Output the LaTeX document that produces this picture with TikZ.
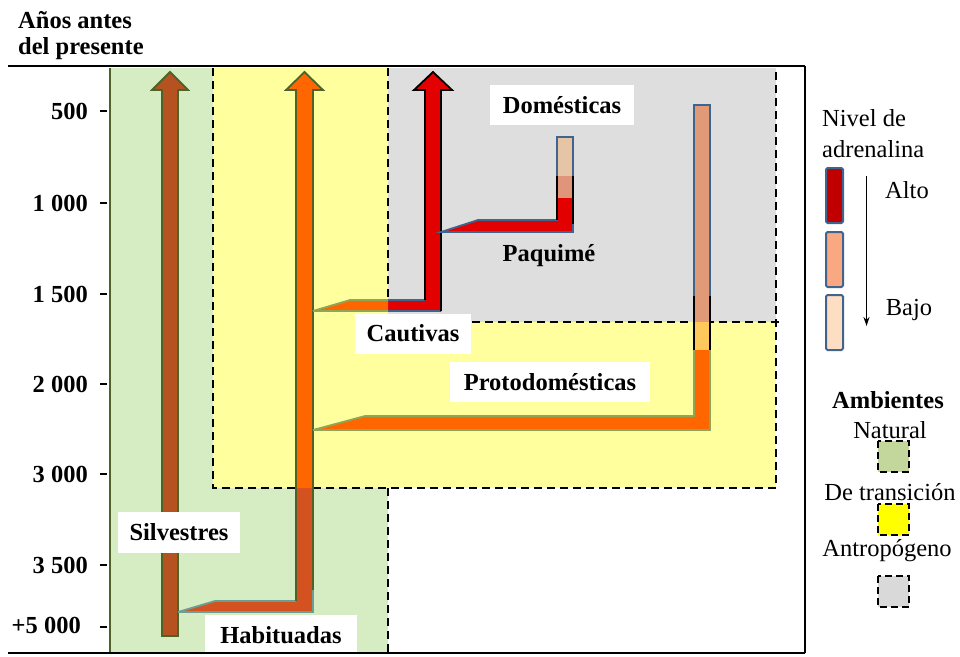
\documentclass[tikz,border=0pt]{standalone}
\usepackage{fontspec}
\setmainfont{Liberation Serif}
\usetikzlibrary{arrows.meta}

% environments
\definecolor{natgreen}{HTML}{D6ECC2}
\definecolor{transyellow}{HTML}{FFFF9E}
\definecolor{anthgray}{HTML}{DEDEDE}
\definecolor{legGreen}{HTML}{C3D69B}
\definecolor{legYellow}{HTML}{FFFF00}
\definecolor{legGray}{HTML}{D9D9D9}
% lineages
\definecolor{silvbrown}{HTML}{B6521F}
\definecolor{habred}{HTML}{D4521F}
\definecolor{orangeA}{HTML}{FF6600}
\definecolor{redA}{HTML}{E20000}
\definecolor{salmonA}{HTML}{E09A78}
\definecolor{salmonB}{HTML}{E0957A}
\definecolor{tanA}{HTML}{E6C4A6}
\definecolor{lightorange}{HTML}{FFC85A}
% outlines
\definecolor{olive}{HTML}{4F6228}
\definecolor{lightolive}{HTML}{8EA656}
\definecolor{tealline}{HTML}{6C9E94}
\definecolor{bluegray}{HTML}{41648F}
% adrenaline scale
\definecolor{adrHigh}{HTML}{C00000}
\definecolor{adrMid}{HTML}{FAA882}
\definecolor{adrLow}{HTML}{FDDEC2}

\begin{document}
\begin{tikzpicture}[x=1pt,y=-1pt,
  txt/.style={font=\fontsize{24.5}{28}\selectfont, inner sep=0pt},
  btxt/.style={font=\fontsize{24.5}{28}\selectfont\bfseries, inner sep=0pt},
  tag/.style={btxt, fill=white},
  bnd/.style={line width=2.4, dash pattern=on 8pt off 5pt},
  frame/.style={line width=2.4},
  outl/.style={line width=1.8, line join=miter},
  adrbox/.style={draw=bluegray, line width=2, rounded corners=1.5pt},
  legbox/.style={line width=2.2, dash pattern=on 7pt off 4pt}]
\useasboundingbox (0,0) rectangle (960,656);

% ---- environments ----
\fill[natgreen] (110,68) rectangle (388,653);
\fill[transyellow] (213,68) rectangle (776,488);
\fill[anthgray] (388,68) rectangle (776,322);
\draw[bnd] (213,68) -- (213,488) -- (776,488) -- (776,68);
\draw[bnd] (388,68) -- (388,322) -- (782,322);
\draw[bnd] (388,488) -- (388,653);
\draw[olive, line width=1.5] (110,68) -- (110,653);

% ---- Silvestres ----
\filldraw[fill=silvbrown, draw=olive, outl]
  (162,636) -- (162,90) -- (152,90) -- (170,72) -- (188,90) -- (178,90) -- (178,636) -- cycle;

% ---- Habituadas ----
\fill[habred] (178,612) -- (215,601) -- (296,601) -- (296,488) -- (313,488) -- (313,612) -- cycle;
\draw[tealline, outl] (178,612) -- (215,601) -- (296,601);
\draw[tealline, outl] (178,612) -- (313,612) -- (313,590);
\draw[olive, outl] (296,601) -- (296,488);
\draw[olive, outl] (313,590) -- (313,488);
\fill[orangeA] (296,488) -- (296,90) -- (286,90) -- (304.5,72) -- (323,90) -- (313,90) -- (313,488) -- cycle;
\draw[olive, outl] (296,488) -- (296,90) -- (286,90) -- (304.5,72) -- (323,90) -- (313,90) -- (313,488);

% ---- Cautivas ----
\fill[redA] (313,311) -- (350,300) -- (425,300) -- (425,90) -- (414,90) -- (433,72) -- (452,90) -- (441,90) -- (441,311) -- cycle;
\begin{scope}
  \clip (300,290) rectangle (388,320);
  \fill[orangeA] (313,311) -- (350,300) -- (425,300) -- (425,311) -- cycle;
\end{scope}
\draw[lightolive, outl] (313,311) -- (350,300) -- (388,300);
\draw[lightolive, outl] (313,311) -- (388,311);
\draw[bluegray, outl] (388,300) -- (425,300);
\draw[bluegray, outl] (388,311) -- (441,311);
\draw[black, outl] (425,300) -- (425,90) -- (414,90) -- (433,72) -- (452,90) -- (441,90) -- (441,311);

% ---- Paquimé ----
\fill[redA] (441,232) -- (478,220) -- (557,220) -- (557,137) -- (573,137) -- (573,232) -- cycle;
\fill[tanA] (557,137) rectangle (573,176);
\fill[salmonB] (557,176) rectangle (573,198);
\draw[bluegray, outl] (441,232) -- (478,220) -- (557,220) -- (557,137) -- (573,137) -- (573,232) -- cycle;
\draw[black, outl] (557,176) -- (557,220);
\draw[black, outl] (573,176) -- (573,224);

% ---- Protodomésticas ----
\fill[orangeA] (313,430) -- (365,416) -- (694,416) -- (694,105) -- (710,105) -- (710,430) -- cycle;
\fill[salmonA] (694,105) rectangle (710,322);
\fill[lightorange] (694,322) rectangle (710,350);
\draw[lightolive, outl] (313,430) -- (365,416) -- (694,416) -- (694,350);
\draw[lightolive, outl] (313,430) -- (710,430) -- (710,350);
\draw[bluegray, outl] (694,296) -- (694,105) -- (710,105) -- (710,296);
\draw[black, outl] (694,296) -- (694,350);
\draw[black, outl] (710,296) -- (710,350);

% ---- lineage names ----
\node[tag, minimum width=122, minimum height=41] (silv) at (179,532.5) {Silvestres};
\node[tag, minimum width=152, minimum height=40] (habi) at (281,635) {Habituadas};
\node[tag, minimum width=116, minimum height=40] (caut) at (413,333.5) {Cautivas};
\node[tag, minimum width=200, minimum height=40] (prot) at (550,382) {Protodomésticas};
\node[tag, minimum width=144, minimum height=40] (dome) at (562,105) {Domésticas};
\node[btxt] (paqu) at (549,256) {Paquimé};

% ---- frame ----
\draw[frame] (8,66) -- (805,66);
\draw[frame] (805,66) -- (805,653);
\draw[frame] (8,653) -- (805,653);

% ---- time axis ----
\node[btxt, anchor=west] (ytitA) at (18,20) {Años antes};
\node[btxt, anchor=west] (ytitB) at (18,49) {del presente};
\foreach \yy/\lbl/\nm in {111/500/a, 203/1 000/b, 294/1 500/c, 384/2 000/d, 474/3 000/e, 565/3 500/f} {
  \node[btxt, anchor=east] (tk\nm) at (88,\yy) {\lbl};
  \draw[line width=1.5] (100,\yy) -- (107,\yy);
}
\node[btxt, anchor=east] (tkg) at (81,625) {+5 000};
\draw[line width=1.5] (100,627) -- (107,627);

% ---- adrenaline legend ----
\node[txt, anchor=west] (adrA) at (822,118) {Nivel de};
\node[txt, anchor=west] (adrB) at (822,149) {adrenalina};
\draw[adrbox, fill=adrHigh] (826,168) rectangle (843,223);
\draw[adrbox, fill=adrMid] (826,232) rectangle (843,287);
\draw[adrbox, fill=adrLow] (826,295) rectangle (843,350);
\coordinate (scTop) at (866.5,176);
\coordinate (scBot) at (866.5,326);
\draw[line width=1.3, -{Stealth[length=9pt, width=6pt]}] (scTop) -- (scBot);
\node[txt] (alto) at (907,190) {Alto};
\node[txt] (bajo) at (909,310) {Bajo};

% ---- environment legend ----
\node[btxt] (amb) at (888,400) {Ambientes};
\node[txt] (nat) at (890,430) {Natural};
\draw[legbox, fill=legGreen] (878,441) rectangle (909,472);
\node[txt] (tra) at (890,492) {De transición};
\draw[legbox, fill=legYellow] (878,504) rectangle (909,535);
\node[txt] (ant) at (887,551) {Antropógeno};
\draw[legbox, fill=legGray] (878,576) rectangle (909,607);
\end{tikzpicture}
\end{document}
